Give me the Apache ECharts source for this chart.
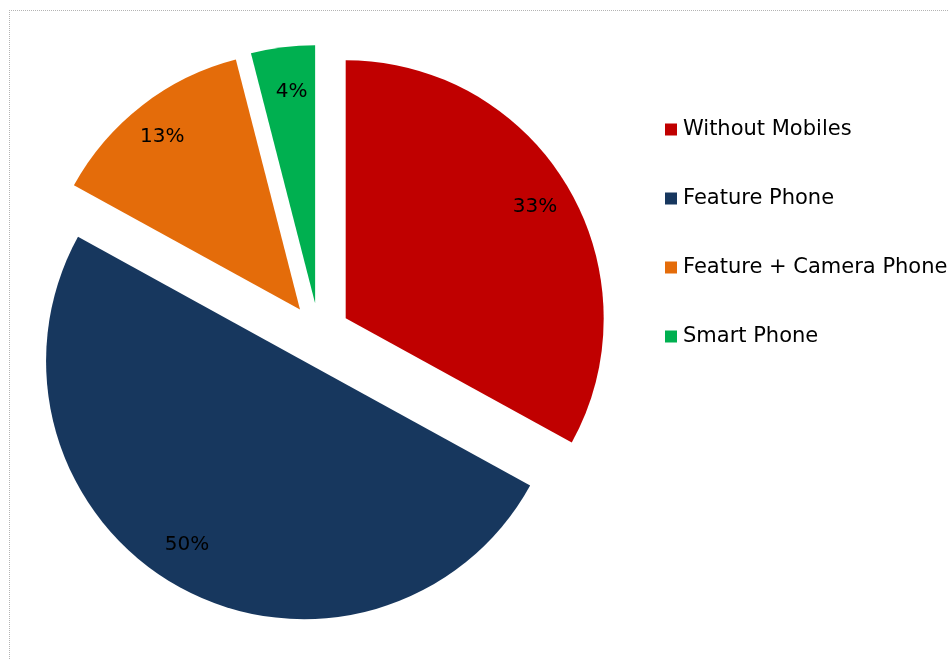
<!DOCTYPE html>
<html>
<head>
<meta charset="utf-8">
<script src="https://cdn.jsdelivr.net/npm/echarts@6/dist/echarts.min.js"></script>
<style>
  html, body { margin: 0; padding: 0; background: #fff; overflow: hidden; }
  #frame {
    position: absolute; left: 9px; top: 10px;
    width: 1000px; height: 700px;
    border-left: 1px dotted #b4b4b4; border-top: 1px dotted #b4b4b4;
  }
  #chart { position: absolute; left: -10px; top: -11px; width: 1010px; height: 711px; }
</style>
</head>
<body>
<div id="frame"><div id="chart"></div></div>
<script>
// Share of users by handset type
const categories = ['Without Mobiles', 'Feature Phone', 'Feature + Camera Phone', 'Smart Phone'];
const shares = [33, 50, 13, 4];
const colors = ['#C00000', '#17375E', '#E46C0A', '#00B050'];

const FONT = '"DejaVu Sans", sans-serif';
const center = [319, 334];
const R = 258;

// small nudges [dx, dy] so the percentage text sits where it reads best in each wedge
const labelNudge = [[0, 1], [-11, -9], [-3, 1], [4, 7]];

// asymmetric padding around a centred label shifts the text by (dx, dy)
function nudgePadding(n) {
  const dx = n[0], dy = n[1];
  return [Math.max(0, 2 * dy), Math.max(0, -2 * dx), Math.max(0, -2 * dy), Math.max(0, 2 * dx)];
}

const chart = echarts.init(document.getElementById('chart'), null, { renderer: 'canvas' });
chart.setOption({
  animation: false,
  legend: {
    orient: 'vertical',
    left: 660,
    top: 114,
    itemWidth: 12,
    itemHeight: 12,
    itemGap: 48,
    icon: 'rect',
    selectedMode: false,
    textStyle: { fontFamily: FONT, fontSize: 21, lineHeight: 21, color: '#000', padding: [0, 0, 0, 1] },
    data: categories
  },
  series: [
    {
      type: 'pie',
      center: center,
      radius: [0, R],
      startAngle: 90,
      clockwise: true,
      selectedMode: 'multiple',
      selectedOffset: 31,
      silent: true,
      label: { show: false },
      labelLine: { show: false },
      data: categories.map((name, i) => ({
        name: name,
        value: shares[i],
        selected: true,
        itemStyle: { color: colors[i] }
      }))
    },
    {
      // ring used only to place the percentage labels near the rim
      type: 'pie',
      center: center,
      radius: [176, R],
      startAngle: 90,
      clockwise: true,
      selectedMode: 'multiple',
      selectedOffset: 31,
      silent: true,
      itemStyle: { color: 'transparent' },
      label: {
        show: true,
        position: 'inside',
        formatter: p => '{v|' + p.value + '%}',
        color: '#000'
      },
      labelLine: { show: false },
      data: categories.map((name, i) => ({
        name: name,
        value: shares[i],
        selected: true,
        itemStyle: { color: 'transparent' },
        label: {
          rich: {
            v: {
              fontFamily: FONT,
              fontSize: 20,
              lineHeight: 22,
              color: '#000',
              padding: nudgePadding(labelNudge[i])
            }
          }
        }
      }))
    }
  ]
});
</script>
</body>
</html>
